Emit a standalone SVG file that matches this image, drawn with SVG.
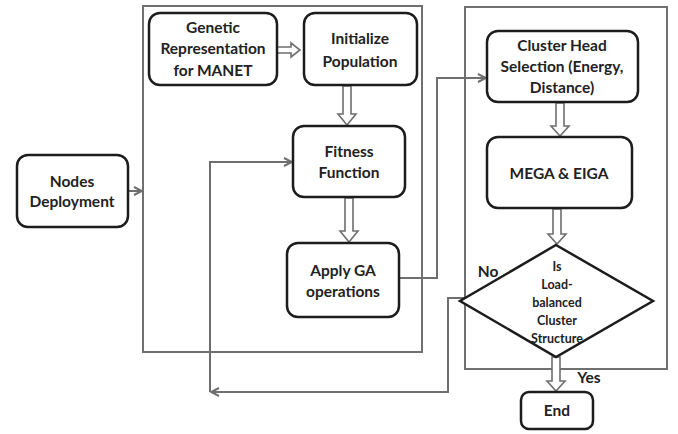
<svg xmlns="http://www.w3.org/2000/svg" width="678" height="434" viewBox="0 0 678 434">
<defs>
<marker id="chev" viewBox="0 0 10 10" refX="9" refY="5" markerWidth="10" markerHeight="10" markerUnits="userSpaceOnUse" orient="auto">
<path d="M1,1 L9,5 L1,9" fill="none" stroke="#6e6e6e" stroke-width="2"/>
</marker>
</defs>
<style>
.node{fill:#fff;stroke:#1c1c1c;stroke-width:2.5}
.cont{fill:none;stroke:#707070;stroke-width:2}
.line{fill:none;stroke:#6e6e6e;stroke-width:2}
.block{fill:#fff;stroke:#6e6e6e;stroke-width:1.6}
text{font-family:Lato,"Liberation Sans",sans-serif;font-weight:bold;fill:#222;text-anchor:middle}
.t{font-size:15.5px}
.s{font-size:12.5px}
</style>
<rect width="678" height="434" fill="#fff"/>
<g id="containers">
<rect class="cont" x="143" y="6" width="279" height="346"/>
<rect class="cont" x="465" y="7" width="202" height="362"/>
</g>
<g id="connectors">
<path class="line" d="M128,191 H142" marker-end="url(#chev)"/>
<path class="line" d="M399,278 H437 V78 H486" marker-end="url(#chev)"/>
<path class="line" d="M210,392 V162 H292" marker-end="url(#chev)"/>
<path class="line" d="M473,298 H448 V392 H211" marker-end="url(#chev)"/>
<path class="block" d="M277,47 H291 V43 L300,50 L291,57 V53 H277 Z"/>
<path class="block" d="M343,86 V114 H338 L347,125 L356,114 H351 V86 Z"/>
<path class="block" d="M345,198 V231 H340 L349,242 L358,231 H353 V198 Z"/>
<path class="block" d="M556,103 V126 H551 L560,136 L569,126 H564 V103 Z"/>
<path class="block" d="M553,209 V234 H548 L557,244 L566,234 H561 V209 Z"/>
<path class="block" d="M552,357 V381 H547 L556,391 L565,381 H560 V357 Z"/>
</g>
<g id="genetic">
<rect class="node" x="149" y="13" width="128" height="72" rx="11"/>
<text class="t" x="213" y="33">Genetic</text>
<text class="t" x="213" y="54">Representation</text>
<text class="t" x="213" y="76">for MANET</text>
</g>
<g id="initialize">
<rect class="node" x="304" y="13" width="113" height="72" rx="11"/>
<text class="t" x="360" y="44">Initialize</text>
<text class="t" x="360" y="67">Population</text>
</g>
<g id="fitness">
<rect class="node" x="293" y="126" width="112" height="71" rx="11"/>
<text class="t" x="349" y="157">Fitness</text>
<text class="t" x="349" y="178">Function</text>
</g>
<g id="nodes">
<rect class="node" x="17" y="155" width="111" height="72" rx="11"/>
<text class="t" x="72" y="187">Nodes</text>
<text class="t" x="72" y="207">Deployment</text>
</g>
<g id="apply">
<rect class="node" x="287" y="243" width="112" height="74" rx="11"/>
<text class="t" x="343" y="276">Apply GA</text>
<text class="t" x="343" y="297">operations</text>
</g>
<g id="cluster">
<rect class="node" x="487" y="31" width="151" height="71" rx="11"/>
<text class="t" x="562" y="51">Cluster Head</text>
<text class="t" x="562" y="72">Selection (Energy,</text>
<text class="t" x="562" y="93">Distance)</text>
</g>
<g id="mega">
<rect class="node" x="487" y="137" width="145" height="71" rx="11"/>
<text class="t" x="559" y="179">MEGA &amp; EIGA</text>
</g>
<g id="decision">
<path class="node" d="M556,245 L653,301 L556,357 L460,301 Z"/>
<text class="s" x="557" y="271">Is</text>
<text class="s" x="557" y="289">Load-</text>
<text class="s" x="557" y="307">balanced</text>
<text class="s" x="557" y="325">Cluster</text>
<text class="s" x="557" y="343">Structure</text>
</g>
<g id="end">
<rect class="node" x="521" y="392" width="72" height="37" rx="8"/>
<text class="t" x="557" y="416">End</text>
</g>
<g id="labels">
<text class="t" x="488" y="277">No</text>
<text class="t" x="589" y="383">Yes</text>
</g>
</svg>
